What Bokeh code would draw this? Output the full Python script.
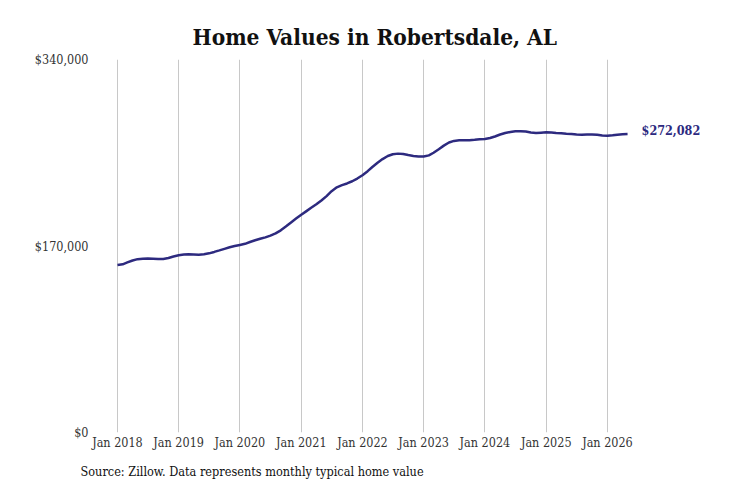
import pandas as pd
from bokeh.plotting import figure
from bokeh.models import Title, Label, FixedTicker, NumeralTickFormatter, DatetimeTickFormatter, Range1d
from bokeh.embed import file_html
from bokeh.resources import INLINE

# monthly typical home value, Jan 2018 .. May 2026
values = [
    152700, 153300, 155000, 156800, 158000, 158400, 158500, 158400, 158200, 158200, 159000, 160400,
    161600, 162200, 162400, 162300, 162100, 162400, 163300, 164600, 166000, 167400, 168800, 170000,
    171000, 172000, 173600, 175200, 176600, 177900, 179500, 181500, 184300, 187800, 191500, 195000,
    198500, 201800, 204800, 208000, 211500, 215500, 220000, 223500, 225500, 227000, 229000, 231500,
    234500, 238200, 242000, 245800, 249200, 252000, 253600, 254200, 253800, 252900, 252100, 251600,
    251500, 252600, 255000, 258200, 261500, 264300, 265800, 266300, 266400, 266500, 266800, 267200,
    267600, 268400, 269800, 271600, 273000, 274000, 274600, 274700, 274300, 273400, 273000, 273300,
    273600, 273500, 273100, 272800, 272400, 272000, 271600, 271400, 271600, 271700, 271400, 270700,
    270400, 270900, 271500, 271900, 272082,
]
months = pd.date_range("2018-01-01", periods=len(values), freq="MS")
tick_years = list(range(2018, 2027))
y_ticks = [0, 170000, 340000]

title = "Home Values in Robertsdale, AL"
source_note = "Source: Zillow. Data represents monthly typical home value"
end_label = "${:,}".format(values[-1])

serif = "DejaVu Serif Condensed"
line_color = "#2d2a7f"

t0 = pd.Timestamp("2018-01-01")
x_start = t0 - pd.Timedelta(days=131)
x_end = t0 + pd.Timedelta(days=3632)

p = figure(width=731, height=487, x_axis_type="datetime",
           x_range=Range1d(x_start, x_end), y_range=Range1d(0, 340000),
           output_backend="svg", toolbar_location=None,
           min_border_left=95, min_border_right=5, min_border_top=59, min_border_bottom=54)

p.line(months, values, line_color=line_color, line_width=2.5)

p.outline_line_color = None
p.ygrid.grid_line_color = None
p.xgrid.grid_line_color = "#c8c8c8"
p.xgrid.grid_line_width = 1

tick_ms = [pd.Timestamp(f"{y}-01-01").value // 10**6 for y in tick_years]
p.xaxis.ticker = FixedTicker(ticks=tick_ms)
p.xaxis.formatter = DatetimeTickFormatter(years="%b %Y", months="%b %Y", days="%b %Y")
p.yaxis.ticker = FixedTicker(ticks=y_ticks)
p.yaxis.formatter = NumeralTickFormatter(format="$0,0")

for ax in (p.xaxis, p.yaxis):
    ax.axis_line_color = None
    ax.major_tick_line_color = None
    ax.minor_tick_line_color = None
    ax.major_label_text_font = serif
    ax.major_label_text_font_size = "12.5px"
    ax.major_label_text_color = "#333333"
p.xaxis.major_label_standoff = -4
p.yaxis.major_label_standoff = 1

p.add_layout(Title(text=title, align="left", offset=97, standoff=20,
                   text_font=serif, text_font_style="bold", text_font_size="22.5px",
                   text_color="#111111"), "above")
p.add_layout(Title(text=source_note, align="left", offset=-15, standoff=18,
                   text_font=serif, text_font_style="normal", text_font_size="12.6px",
                   text_color="#111111"), "below")
p.add_layout(Label(x=months[-1], y=values[-1], x_offset=14, y_offset=4, text=end_label,
                   text_font=serif, text_font_style="bold", text_font_size="12.5px",
                   text_align="left", text_baseline="middle", text_color=line_color))

open("out.html", "w").write(file_html(p, INLINE))
